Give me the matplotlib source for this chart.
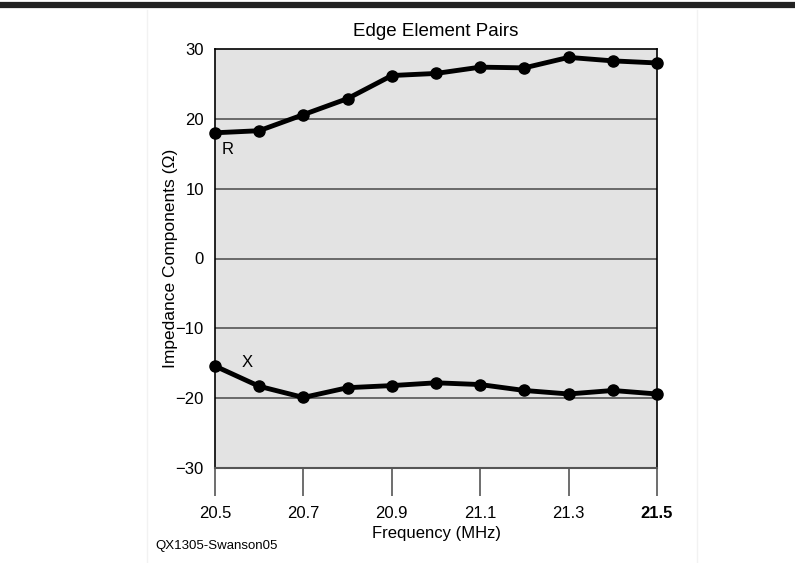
import matplotlib
matplotlib.use("Agg")

import matplotlib.pyplot as plt
from matplotlib.lines import Line2D

freq = [20.5, 20.6, 20.7, 20.8, 20.9, 21.0, 21.1, 21.2, 21.3, 21.4, 21.5]
r_vals = [18.0, 18.3, 20.6, 22.9, 26.2, 26.5, 27.4, 27.3, 28.8, 28.3, 28.0]
x_vals = [-15.4, -18.3, -19.9, -18.5, -18.2, -17.8, -18.05, -18.9, -19.4, -18.9, -19.4]
xticks = [20.5, 20.7, 20.9, 21.1, 21.3, 21.5]
yticks = [-30, -20, -10, 0, 10, 20, 30]

plt.rcParams["font.family"] = ["Liberation Sans", "DejaVu Sans"]

fig = plt.figure(figsize=(7.95, 5.63), dpi=100)
ax = fig.add_axes([215 / 795, 1 - 468 / 563, 442 / 795, 419 / 563])
ax.set_facecolor("#e3e3e3")

for y in [-20, -10, 0, 10, 20]:
    ax.axhline(y, color="#555555", lw=1.2, zorder=1)

ax.plot(freq, r_vals, color="black", lw=3.5, marker="o", ms=8, zorder=3, clip_on=False)
ax.plot(freq, x_vals, color="black", lw=3.5, marker="o", ms=8, zorder=3, clip_on=False)

ax.text(20.515, 15.6, "R", fontsize=12, ha="left", va="center")
ax.text(20.561, -14.9, "X", fontsize=12, ha="left", va="center")

ax.set_xlim(20.5, 21.5)
ax.set_ylim(-30, 30)
ax.set_xticks(xticks)
ax.set_xticklabels(["20.5", "20.7", "20.9", "21.1", "21.3", "21.5"])
ax.get_xticklabels()[-1].set_fontweight("bold")
ax.set_yticks(yticks)
ax.tick_params(axis="x", length=20, width=1.2, color="#555555", labelsize=12, pad=7)
ax.tick_params(axis="y", length=0, labelsize=12, pad=8)

for side in ["left", "top", "right"]:
    ax.spines[side].set_color("black")
    ax.spines[side].set_linewidth(1.2)
ax.spines["bottom"].set_color("#555555")
ax.spines["bottom"].set_linewidth(1.5)

ax.set_title("Edge Element Pairs", fontsize=13.5, pad=9.5)
ax.set_xlabel("Frequency (MHz)", fontsize=12, labelpad=4)
ax.set_ylabel("Impedance Components (Ω)", fontsize=12.5, labelpad=-2)

fig.text(155 / 795, 1 - 546 / 563, "QX1305-Swanson05", fontsize=9.5, ha="left", va="center")

# top rule and faint page edges
fig.add_artist(Line2D([0, 1], [1 - 5 / 563, 1 - 5 / 563], color="#222222", lw=4.5))
fig.add_artist(Line2D([147 / 795, 147 / 795], [0, 1 - 10 / 563], color="#f2f2f2", lw=1))
fig.add_artist(Line2D([697 / 795, 697 / 795], [0, 1 - 10 / 563], color="#f2f2f2", lw=1))

fig.savefig("out.png", dpi=100)
plt.close(fig)
